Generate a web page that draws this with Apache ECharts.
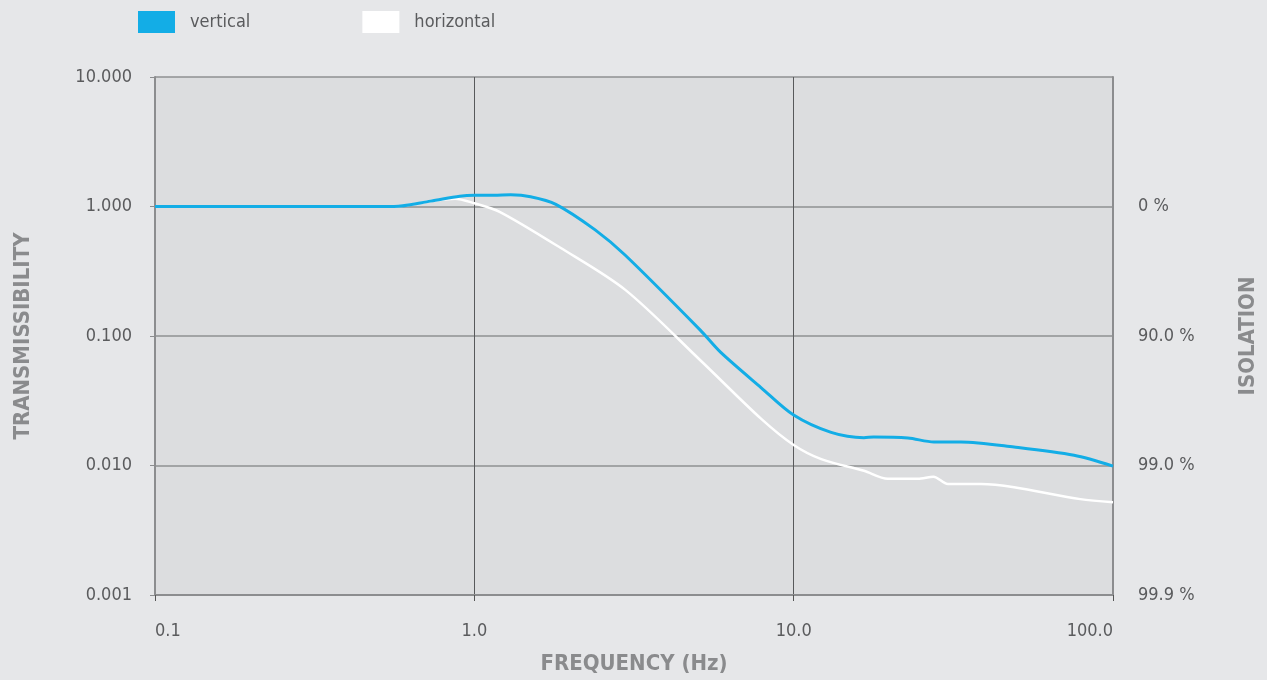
<!DOCTYPE html>
<html><head><meta charset="utf-8">
<script src="https://cdn.jsdelivr.net/npm/echarts@6/dist/echarts.min.js"></script>
<style>html,body{margin:0;padding:0;background:#e6e7e9;}#c{width:1267px;height:680px;}</style>
</head><body><div id="c"></div>
<script>
const xTickLabels = {0.1:'0.1', 1:'1.0', 10:'10.0', 100:'100.0'};
const leftTickLabels = {10:'10.000', 1:'1.000', 0.1:'0.100', 0.01:'0.010', 0.001:'0.001'};
const rightTickLabels = {1:'0 %', 0.1:'90.0 %', 0.01:'99.0 %', 0.001:'99.9 %'};
const verticalFreq = [0.1, 0.3, 0.56, 0.73, 0.9, 1.0, 1.15, 1.3, 1.5, 1.8, 2.39, 2.97, 5.1, 5.9, 7.9, 10, 13.1, 16.6, 17.8, 22.8, 27.5, 33.4, 49, 75.5, 100];
const verticalT    = [1.0, 1.0, 1.0, 1.1, 1.2, 1.22, 1.22, 1.23, 1.19, 1.04, 0.66, 0.42, 0.111, 0.075, 0.040, 0.0245, 0.018, 0.0164, 0.0166, 0.0163, 0.0152, 0.0152, 0.0139, 0.0120, 0.0099];
const horizontalFreq = [0.1, 0.3, 0.56, 0.73, 0.87, 1.0, 1.2, 1.86, 2.97, 5.1, 7.9, 10, 12.2, 16.6, 19.7, 24.5, 27.4, 30.4, 38.6, 49, 79, 100];
const horizontalT    = [1.0, 1.0, 1.0, 1.1, 1.15, 1.06, 0.91, 0.48, 0.227, 0.065, 0.023, 0.0144, 0.0112, 0.0091, 0.0079, 0.0079, 0.0082, 0.0072, 0.0072, 0.0068, 0.0055, 0.0052];

const FONT = '"DejaVu Sans Condensed", "Liberation Sans", sans-serif';
const labelColor = '#5a5b5d';
const nameColor = '#8a8b8d';
const chart = echarts.init(document.getElementById('c'));
chart.setOption({
  backgroundColor: '#e6e7e9',
  animation: false,
  legend: {
    left: 138, top: 11, padding: 0, icon: 'rect', itemWidth: 37, itemHeight: 22, itemGap: 112,
    textStyle: {color: labelColor, fontSize: 18, fontFamily: FONT, padding: [0,0,0,10]},
    data: ['vertical', 'horizontal']
  },
  grid: {left: 155, right: 154, top: 77, bottom: 85, outerBoundsMode: 'none', containLabel: false,
    show: true, backgroundColor: '#dcdddf', borderWidth: 0},
  xAxis: {
    type: 'log', logBase: 10, min: 0.1, max: 100,
    name: 'FREQUENCY (Hz)', nameLocation: 'middle', nameGap: 58,
    nameTextStyle: {color: nameColor, fontSize: 22, fontWeight: 'bold', fontFamily: FONT},
    axisLine: {show: true, lineStyle: {color: '#8c8d8f', width: 2}},
    axisTick: {show: true, length: 6, lineStyle: {color: '#555'}},
    axisLabel: {color: labelColor, fontSize: 18, fontFamily: FONT, margin: 27,
      alignMinLabel: 'left', alignMaxLabel: 'right',
      formatter: v => xTickLabels[+v.toPrecision(6)] || ''},
    splitLine: {show: true, lineStyle: {color: '#58595b', width: 1}},
    minorTick: {show: false}, minorSplitLine: {show: false}
  },
  yAxis: [{
    type: 'log', logBase: 10, min: 0.001, max: 10,
    name: 'TRANSMISSIBILITY', nameLocation: 'middle', nameGap: 121, nameRotate: 90,
    nameTextStyle: {color: nameColor, fontSize: 22, fontWeight: 'bold', fontFamily: FONT},
    axisLine: {show: true, lineStyle: {color: '#8c8d8f', width: 2}},
    axisTick: {show: true, length: 5, lineStyle: {color: '#8c8d8f'}},
    axisLabel: {color: labelColor, fontSize: 18, fontFamily: FONT, margin: 23,
      formatter: v => leftTickLabels[+v.toPrecision(6)] || ''},
    splitLine: {show: true, lineStyle: {color: '#8f9092', width: 1.5}}
  }, {
    type: 'log', logBase: 10, min: 0.001, max: 10, position: 'right',
    name: 'ISOLATION', nameLocation: 'middle', nameGap: 124, nameRotate: 90,
    nameTextStyle: {color: nameColor, fontSize: 22, fontWeight: 'bold', fontFamily: FONT},
    axisLine: {show: true, lineStyle: {color: '#8c8d8f', width: 2}},
    axisTick: {show: false},
    axisLabel: {color: labelColor, fontSize: 18, fontFamily: FONT, margin: 25,
      formatter: v => rightTickLabels[+v.toPrecision(6)] || ''},
    splitLine: {show: false}
  }],
  series: [{
    name: 'vertical', type: 'line', smooth: 0.3, showSymbol: false,
    data: verticalFreq.map((f, i) => [f, verticalT[i]]),
    lineStyle: {color: '#13ade6', width: 3}, itemStyle: {color: '#13ade6'}, z: 3
  }, {
    name: 'horizontal', type: 'line', smooth: 0.3, showSymbol: false,
    data: horizontalFreq.map((f, i) => [f, horizontalT[i]]),
    lineStyle: {color: '#ffffff', width: 2.5}, itemStyle: {color: '#ffffff'}, z: 2
  }]
});
</script></body></html>
